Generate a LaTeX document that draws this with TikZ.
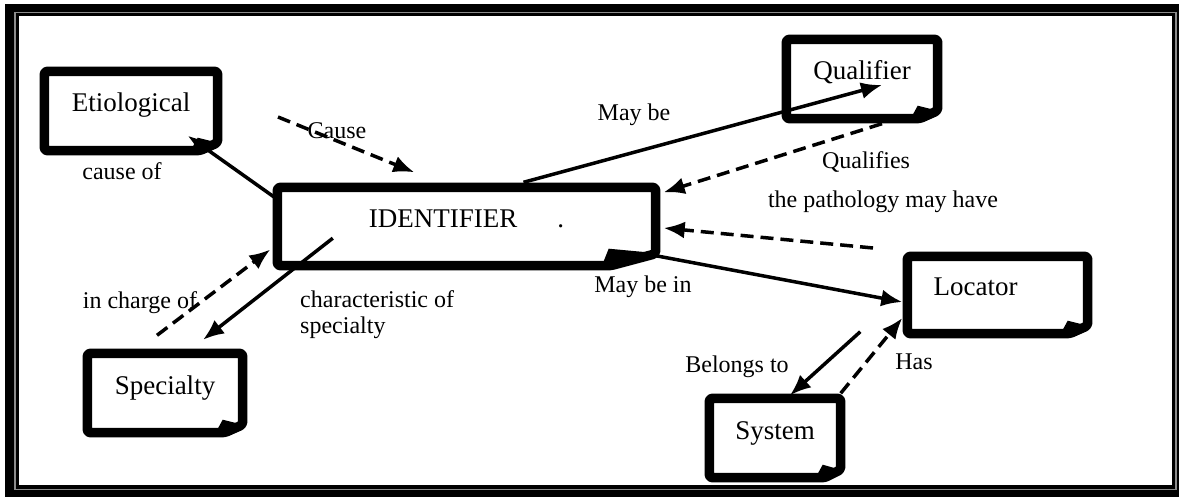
\documentclass[tikz,border=0pt]{standalone}
\usepackage{fontspec}
\setmainfont{Liberation Serif}
\usetikzlibrary{arrows.meta}

\begin{document}
\begin{tikzpicture}[x=1pt,y=-1pt,
  concept/.style={inner sep=0pt, text height=18pt, text depth=16pt,
    font=\fontsize{27}{29}\selectfont},
  lbl/.style={inner sep=0pt, font=\fontsize{24}{26}\selectfont},
  boxframe/.style={line width=9.5pt, rounded corners=3pt, line join=round},
  rel/.style={line width=3.5pt, -{Latex[length=21pt,width=17pt]}},
  maybe/.style={rel, dash pattern=on 13pt off 7pt}]
\useasboundingbox (0,0) rectangle (1179,497);
% double frame
\fill[black] (5,4) rectangle (1179,497);
\fill[black!45] (14,12) rectangle (1177,490);
\fill[black] (16,13) rectangle (1175,489);
\fill[white] (19,16) rectangle (1172,485);
% concepts
\node[concept, minimum width=173pt, minimum height=79pt] (etio) at (131,111) {Etiological};
\node[concept, minimum width=378pt, minimum height=78pt] (ident) at (466.5,226.5) {IDENTIFIER\hspace*{40pt}.};
\node[concept, minimum width=151pt, minimum height=79pt] (qual) at (862,79) {Qualifier};
\node[concept, minimum width=180pt, minimum height=77pt] (loc) at (997.5,295) {Locator\hspace*{44pt}};
\node[concept, minimum width=155pt, minimum height=79pt] (spec) at (165,393) {Specialty};
\node[concept, minimum width=131pt, minimum height=79pt] (sys) at (775,438) {System};
\foreach \n/\c/\v in {etio/18/8,ident/45/12,qual/18/8,loc/18/8,spec/18/8,sys/16/8} {
  \draw[boxframe] (\n.north west) -- (\n.north east) -- ([yshift=\v pt]\n.south east)
    -- ([xshift=-\c pt]\n.south east) -- (\n.south west) -- cycle;
  \fill ([xshift={-(\c+8)*1pt},yshift=2pt]\n.south east)
    -- ([xshift={-(\c+2)*1pt},yshift={(\v+5)*1pt}]\n.south east)
    -- ([xshift=-4pt,yshift={(\v+1)*1pt}]\n.south east) -- cycle;
}
% relations
\coordinate (causetail) at (278,117);
\coordinate (pathtail) at (873,248);
\draw[rel] ([yshift=-12pt]ident.north west) -- ([xshift=-30pt,yshift=15pt]etio.south east);
\draw[maybe] (causetail) -- ([xshift=137pt,yshift=15pt]ident.north west);
\draw[rel] ([xshift=57pt,yshift=5pt]ident.north) -- ([xshift=20pt,yshift=-6pt]qual.center);
\draw[maybe] ([xshift=20pt,yshift=-5pt]qual.south) -- ([xshift=8pt,yshift=-5pt]ident.north east);
\draw[maybe] (pathtail) -- ([xshift=8pt,yshift=-1.5pt]ident.east);
\draw[rel] ([yshift=10pt]ident.south east) -- ([xshift=-5pt,yshift=-7pt]loc.west);
\draw[rel] ([xshift=-47pt,yshift=2pt]loc.south west) -- ([xshift=15pt,yshift=3pt]sys.north);
\draw[maybe] ([yshift=5pt]sys.north east) -- ([xshift=-5pt,yshift=-23pt]loc.west);
\draw[maybe] ([xshift=-8pt,yshift=18pt]spec.north) -- ([xshift=-7pt,yshift=-23pt]ident.west);
\draw[rel] ([xshift=55.5pt,yshift=27.5pt]ident.south west) -- ([xshift=38pt,yshift=13.5pt]spec.north);
% labels
\node[lbl] (causeof) at (122,171) {cause of};
\node[lbl] (cause) at (337,131) {Cause};
\node[lbl] (maybe) at (634,115) {May be};
\node[lbl] (qualifies) at (866,162) {Qualifies};
\node[lbl] (pathology) at (883,202) {the pathology may have};
\node[lbl] (maybein) at (643,287) {May be in};
\node[lbl] (belongs) at (737,367) {Belongs to};
\node[lbl] (has) at (914,362) {Has};
\node[lbl] (incharge) at (140,303) {in charge of};
\node[lbl, align=left, anchor=west] (charspec) at (300,315) {characteristic of\\specialty};
\end{tikzpicture}
\end{document}
